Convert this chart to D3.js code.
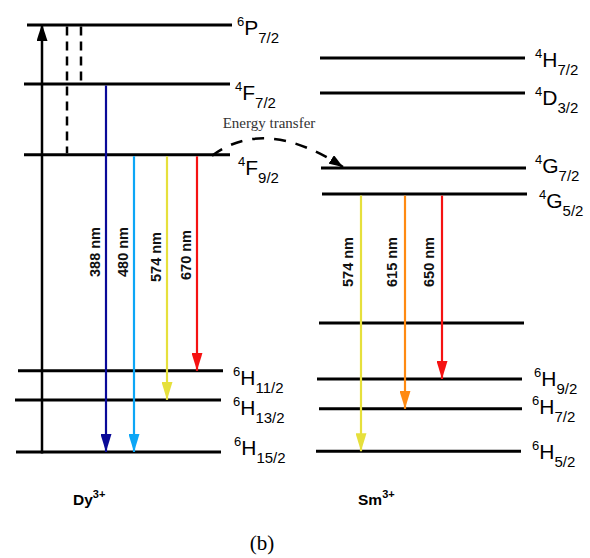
<!DOCTYPE html>
<html>
<head>
<meta charset="utf-8">
<script src="https://cdn.jsdelivr.net/npm/d3@7"></script>
<style>
  body { margin: 0; background: #fff; }
  text { font-family: "Liberation Sans", Arial, sans-serif; }
</style>
</head>
<body>
<div id="diagram"></div>
<script>
//-------------------------------------------------------------------------------
// Energy levels (relative energy, arbitrary units, 0 = ground state)
const dyLevelNames  = ["6P7/2", "4F7/2", "4F9/2", "6H11/2", "6H13/2", "6H15/2"];
const dyLevelEnergy = [100, 86.2, 69.6, 19.0, 12.2, 0];

const smLevelNames  = ["4H7/2", "4D3/2", "4G7/2", "4G5/2", "", "6H9/2", "6H7/2", "6H5/2"];
const smLevelEnergy = [92.3, 84.1, 66.5, 60.4, 30.2, 17.1, 10.1, 0.2];

// emission transitions
const dyEmission = [
  { from: "4F7/2", to: "6H15/2", nm: 388 },
  { from: "4F9/2", to: "6H15/2", nm: 480 },
  { from: "4F9/2", to: "6H13/2", nm: 574 },
  { from: "4F9/2", to: "6H11/2", nm: 670 }
];
const smEmission = [
  { from: "4G5/2", to: "6H5/2", nm: 574 },
  { from: "4G5/2", to: "6H7/2", nm: 615 },
  { from: "4G5/2", to: "6H9/2", nm: 650 }
];

// non-radiative relaxation (dashed) and excitation
const dyRelax = [
  { from: "6P7/2", to: "4F9/2" },
  { from: "6P7/2", to: "4F7/2" }
];
const dyExcite = { from: "6H15/2", to: "6P7/2" };
const transfer = { from: "4F9/2", to: "4G7/2", label: "Energy transfer" };

const ionNames = ["Dy", "Sm"];
const caption = "(b)";

//-------------------------------------------------------------------------------
const width = 590, height = 558;

const y = d3.scaleLinear()
  .domain([0, 100])
  .range([452, 25]);

const dyE = new Map(dyLevelNames.map((n, i) => [n, dyLevelEnergy[i]]));
const smE = new Map(smLevelNames.map((n, i) => [n, smLevelEnergy[i]]));

const svg = d3.select("#diagram")
  .append("svg")
    .attr("width", width)
    .attr("height", height);

// arrow heads
const defs = svg.append("defs");
function addHead(id, color, w, h) {
  defs.append("marker")
    .attr("id", id)
    .attr("markerUnits", "userSpaceOnUse")
    .attr("viewBox", `0 ${-w / 2} ${h} ${w}`)
    .attr("refX", h)
    .attr("refY", 0)
    .attr("markerWidth", h)
    .attr("markerHeight", w)
    .attr("orient", "auto")
    .append("path")
      .attr("d", `M0,${-w / 2}L${h},0L0,${w / 2}Z`)
      .attr("fill", color);
}

const nmColor = d3.scaleOrdinal()
  .domain([388, 480, 574, 615, 650, 670])
  .range(["#0a0a98", "#0ca6f6", "#e6e03c", "#ff8a12", "#f51212", "#f51212"]);
nmColor.domain().forEach(nm => addHead("head" + nm, nmColor(nm), 11, 18));
addHead("headBlack", "#000", 11, 17);
addHead("headTransfer", "#000", 10, 14);

// term symbol like 6H15/2 -> superscript, letter, subscript
function termLabel(g, name, x, yb) {
  const t = g.append("text")
    .attr("x", x)
    .attr("y", yb)
    .attr("fill", "#000");
  t.append("tspan").style("font-size", "13px").attr("dy", -9).text(name[0]);
  t.append("tspan").style("font-size", "21px").attr("dy", 9).text(name[1]);
  t.append("tspan").style("font-size", "15px").attr("dy", 8).text(name.slice(2));
}

//-------------------------------------------------------------------------------
// level extents and label placement: [x1, x2, label x, label baseline offset]
const dyX = {
  "6P7/2":  [27, 232, 237, 10],
  "4F7/2":  [24, 230, 235, 16],
  "4F9/2":  [24, 230, 238, 20],
  "6H11/2": [18, 223, 233, 14],
  "6H13/2": [15, 221, 233, 15],
  "6H15/2": [16, 221, 234, 3]
};
const smX = {
  "4H7/2": [320, 525, 535, 9],
  "4D3/2": [320, 525, 535, 12],
  "4G7/2": [321, 526, 535, 5],
  "4G5/2": [322, 527, 539, 14],
  "":      [319, 524, 0, 0],
  "6H9/2": [317, 522, 534, 7],
  "6H7/2": [319, 522, 532, 5],
  "6H5/2": [316, 521, 532, 8]
};

const gDy = svg.append("g");
const gSm = svg.append("g");

gDy.selectAll("line.level")
  .data(dyLevelNames)
  .enter().append("line")
    .attr("class", "level")
    .attr("x1", d => dyX[d][0])
    .attr("x2", d => dyX[d][1])
    .attr("y1", d => y(dyE.get(d)))
    .attr("y2", d => y(dyE.get(d)))
    .attr("stroke", "#000")
    .attr("stroke-width", 3);

gSm.selectAll("line.level")
  .data(smLevelNames)
  .enter().append("line")
    .attr("class", "level")
    .attr("x1", d => smX[d][0])
    .attr("x2", d => smX[d][1])
    .attr("y1", d => y(smE.get(d)))
    .attr("y2", d => y(smE.get(d)))
    .attr("stroke", "#000")
    .attr("stroke-width", 3);

dyLevelNames.forEach(n => termLabel(gDy, n, dyX[n][2], y(dyE.get(n)) + dyX[n][3]));
smLevelNames.filter(n => n).forEach(n => termLabel(gSm, n, smX[n][2], y(smE.get(n)) + smX[n][3]));

// excitation arrow
gDy.append("line")
  .attr("x1", 42).attr("x2", 42)
  .attr("y1", y(dyE.get(dyExcite.from)) + 1.5)
  .attr("y2", y(dyE.get(dyExcite.to)) - 1)
  .attr("stroke", "#000")
  .attr("stroke-width", 2.5)
  .attr("marker-end", "url(#headBlack)");

// non-radiative relaxation
const relaxX = [67, 81];
gDy.selectAll("line.relax")
  .data(dyRelax)
  .enter().append("line")
    .attr("class", "relax")
    .attr("x1", (d, i) => relaxX[i])
    .attr("x2", (d, i) => relaxX[i])
    .attr("y1", d => y(dyE.get(d.from)) + 1.5)
    .attr("y2", d => y(dyE.get(d.to)) - 1.5)
    .attr("stroke", "#000")
    .attr("stroke-width", 2.5)
    .attr("stroke-dasharray", "9,6");

// emission arrows
function emissions(g, data, E, xs, labelY, labelOff) {
  g.selectAll("line.emit")
    .data(data)
    .enter().append("line")
      .attr("class", "emit")
      .attr("x1", (d, i) => xs[i])
      .attr("x2", (d, i) => xs[i])
      .attr("y1", d => y(E.get(d.from)) + 1.5)
      .attr("y2", d => y(E.get(d.to)))
      .attr("stroke", d => nmColor(d.nm))
      .attr("stroke-width", 2.2)
      .attr("marker-end", d => `url(#head${d.nm})`);

  g.selectAll("text.nm")
    .data(data)
    .enter().append("text")
      .attr("class", "nm")
      .attr("transform", (d, i) => `translate(${xs[i] - labelOff},${labelY[i]}) rotate(-90)`)
      .attr("text-anchor", "middle")
      .style("font-size", "14.5px")
      .attr("font-weight", "bold")
      .attr("fill", "#111")
      .text(d => d.nm + " nm");
}
emissions(gDy, dyEmission, dyE, [106, 134, 167, 197], [252, 252, 257, 255], 6);
emissions(gSm, smEmission, smE, [361, 405, 442], [262, 262, 262], 8);

//-------------------------------------------------------------------------------
// Energy transfer
const tStart = [212, y(dyE.get(transfer.from)) + 1];
const tEnd = [343, y(smE.get(transfer.to)) - 1];
svg.append("path")
  .attr("d", `M${tStart[0]},${tStart[1]} Q265,116 ${tEnd[0]},${tEnd[1]}`)
  .attr("fill", "none")
  .attr("stroke", "#000")
  .attr("stroke-width", 2.5)
  .attr("stroke-dasharray", "12,10")
  .attr("marker-end", "url(#headTransfer)");

svg.append("text")
  .attr("x", 269)
  .attr("y", 128)
  .attr("text-anchor", "middle")
  .style("font-family", "'Liberation Serif', 'Times New Roman', serif")
  .style("font-size", "15px")
  .attr("fill", "#333")
  .text(transfer.label);

//-------------------------------------------------------------------------------
// ion names and caption
const ionX = [73, 358];
ionNames.forEach((n, i) => {
  const t = svg.append("text")
    .attr("x", ionX[i])
    .attr("y", 505)
    .attr("font-weight", "bold")
    .attr("fill", "#000");
  t.append("tspan").style("font-size", "15.5px").text(n);
  t.append("tspan").style("font-size", "11px").attr("dy", -7).text("3+");
});

svg.append("text")
  .attr("x", 262)
  .attr("y", 550)
  .attr("text-anchor", "middle")
  .style("font-family", "'Liberation Serif', 'Times New Roman', serif")
  .style("font-size", "21px")
  .text(caption);
</script>
</body>
</html>
